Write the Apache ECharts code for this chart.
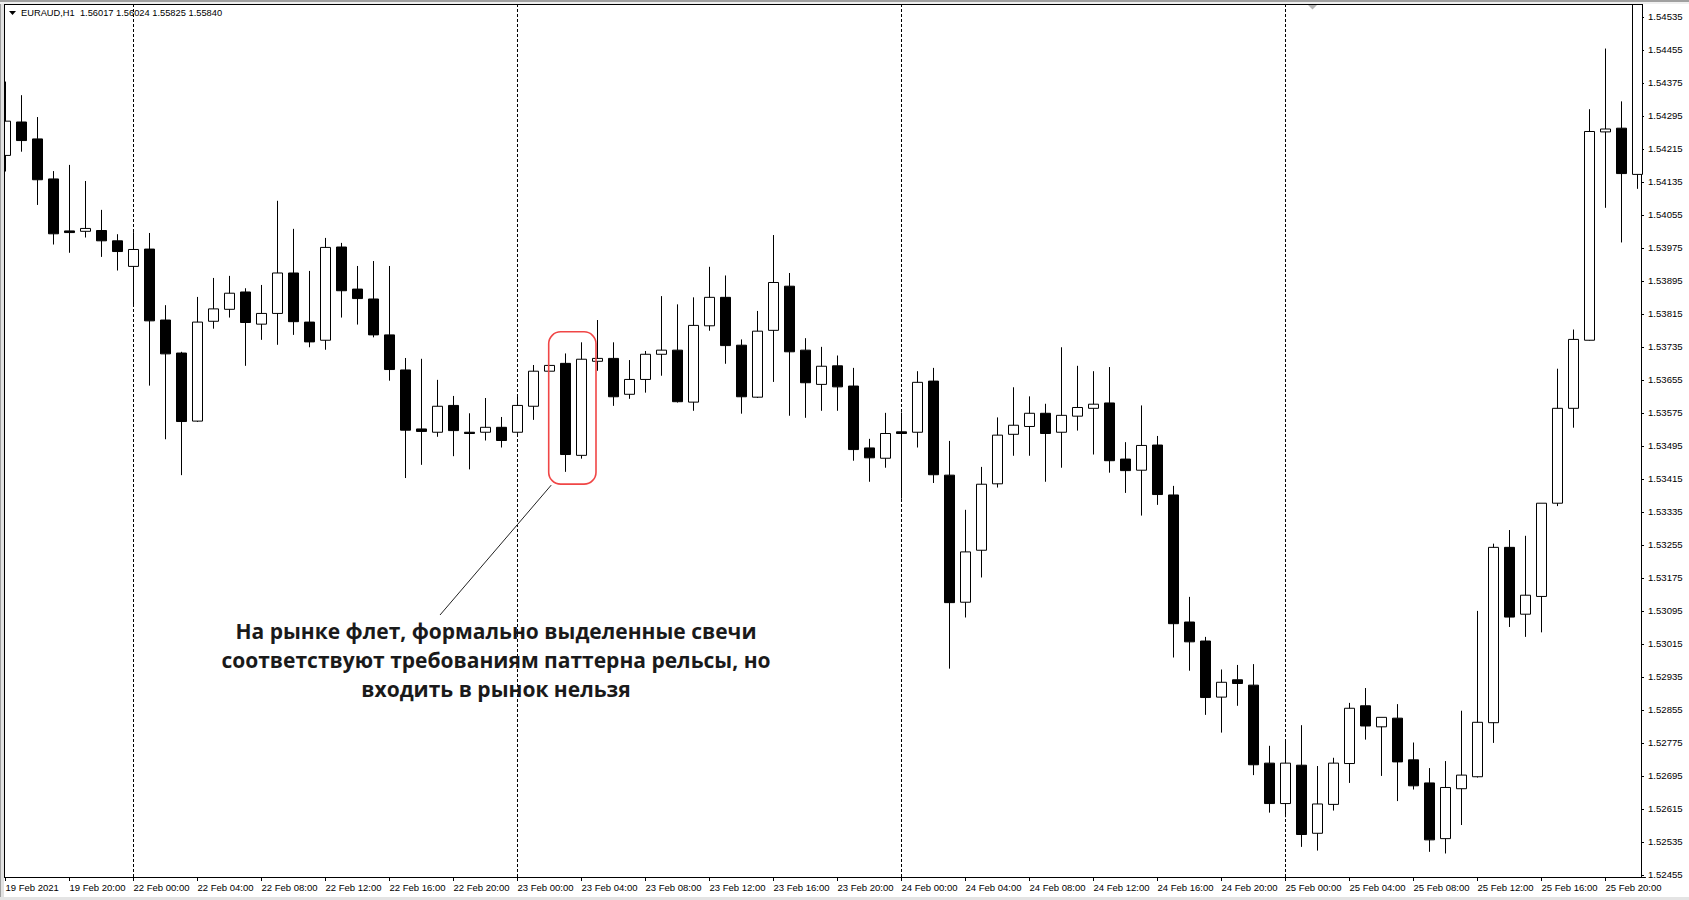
<!DOCTYPE html>
<html><head><meta charset="utf-8">
<script src="https://cdn.jsdelivr.net/npm/echarts@6/dist/echarts.min.js"></script>
<style>html,body{margin:0;padding:0;background:#fff;overflow:hidden}#c{width:1689px;height:900px}</style>
</head><body><div id="c"></div>
<script>
const categories = [
'19 Feb 16:00','19 Feb 17:00','19 Feb 18:00','19 Feb 19:00','19 Feb 20:00','19 Feb 21:00','19 Feb 22:00','19 Feb 23:00',
'22 Feb 00:00','22 Feb 01:00','22 Feb 02:00','22 Feb 03:00','22 Feb 04:00','22 Feb 05:00','22 Feb 06:00','22 Feb 07:00',
'22 Feb 08:00','22 Feb 09:00','22 Feb 10:00','22 Feb 11:00','22 Feb 12:00','22 Feb 13:00','22 Feb 14:00','22 Feb 15:00',
'22 Feb 16:00','22 Feb 17:00','22 Feb 18:00','22 Feb 19:00','22 Feb 20:00','22 Feb 21:00','22 Feb 22:00','22 Feb 23:00',
'23 Feb 00:00','23 Feb 01:00','23 Feb 02:00','23 Feb 03:00','23 Feb 04:00','23 Feb 05:00','23 Feb 06:00','23 Feb 07:00',
'23 Feb 08:00','23 Feb 09:00','23 Feb 10:00','23 Feb 11:00','23 Feb 12:00','23 Feb 13:00','23 Feb 14:00','23 Feb 15:00',
'23 Feb 16:00','23 Feb 17:00','23 Feb 18:00','23 Feb 19:00','23 Feb 20:00','23 Feb 21:00','23 Feb 22:00','23 Feb 23:00',
'24 Feb 00:00','24 Feb 01:00','24 Feb 02:00','24 Feb 03:00','24 Feb 04:00','24 Feb 05:00','24 Feb 06:00','24 Feb 07:00',
'24 Feb 08:00','24 Feb 09:00','24 Feb 10:00','24 Feb 11:00','24 Feb 12:00','24 Feb 13:00','24 Feb 14:00','24 Feb 15:00',
'24 Feb 16:00','24 Feb 17:00','24 Feb 18:00','24 Feb 19:00','24 Feb 20:00','24 Feb 21:00','24 Feb 22:00','24 Feb 23:00',
'25 Feb 00:00','25 Feb 01:00','25 Feb 02:00','25 Feb 03:00','25 Feb 04:00','25 Feb 05:00','25 Feb 06:00','25 Feb 07:00',
'25 Feb 08:00','25 Feb 09:00','25 Feb 10:00','25 Feb 11:00','25 Feb 12:00','25 Feb 13:00','25 Feb 14:00','25 Feb 15:00',
'25 Feb 16:00','25 Feb 17:00','25 Feb 18:00','25 Feb 19:00','25 Feb 20:00','25 Feb 21:00','25 Feb 22:00'
];
const openP = [
1.54199,1.54280,1.54239,1.54142,1.54016,1.54015,1.54017,1.53992,
1.53930,1.53972,1.53800,1.53720,1.53555,1.53797,1.53826,1.53868,
1.53790,1.53816,1.53914,1.53795,1.53751,1.53977,1.53875,1.53851,
1.53764,1.53679,1.53536,1.53528,1.53593,1.53528,1.53528,1.53540,
1.53528,1.53591,1.53676,1.53695,1.53472,1.53700,1.53707,1.53620,
1.53656,1.53717,1.53727,1.53601,1.53786,1.53855,1.53739,1.53613,
1.53775,1.53882,1.53727,1.53644,1.53689,1.53640,1.53490,1.53465,
1.53529,1.53528,1.53652,1.53424,1.53116,1.53242,1.53403,1.53523,
1.53542,1.53574,1.53528,1.53567,1.53586,1.53599,1.53463,1.53436,
1.53497,1.53376,1.53068,1.53022,1.52886,1.52928,1.52915,1.52726,
1.52628,1.52721,1.52556,1.52626,1.52725,1.52865,1.52814,1.52835,
1.52734,1.52678,1.52543,1.52664,1.52693,1.52824,1.53249,1.53087,
1.53130,1.53356,1.53586,1.53751,1.54256,1.54265,1.54153
];
const highP = [
1.54378,1.54345,1.54292,1.54161,1.54176,1.54137,1.54067,1.54008,
1.54013,1.54011,1.53836,1.53723,1.53856,1.53902,1.53907,1.53877,
1.53885,1.54089,1.54021,1.53919,1.53999,1.53987,1.53931,1.53943,
1.53931,1.53708,1.53706,1.53655,1.53616,1.53574,1.53611,1.53565,
1.53618,1.53691,1.53690,1.53719,1.53746,1.53800,1.53746,1.53703,
1.53725,1.53858,1.53838,1.53855,1.53929,1.53908,1.53753,1.53822,
1.54006,1.53914,1.53756,1.53735,1.53714,1.53684,1.53512,1.53575,
1.53576,1.53676,1.53684,1.53507,1.53340,1.53444,1.53564,1.53637,
1.53615,1.53597,1.53734,1.53689,1.53676,1.53686,1.53504,1.53593,
1.53519,1.53398,1.53129,1.53032,1.52953,1.52964,1.52966,1.52768,
1.52783,1.52818,1.52719,1.52739,1.52872,1.52908,1.52837,1.52869,
1.52776,1.52714,1.52731,1.52853,1.53095,1.53258,1.53291,1.53277,
1.53356,1.53682,1.53777,1.54311,1.54458,1.54330,1.54610
];
const lowP = [
1.54160,1.54208,1.54079,1.53983,1.53963,1.54000,1.53953,1.53920,
1.53832,1.53641,1.53511,1.53424,1.53553,1.53779,1.53806,1.53689,
1.53752,1.53740,1.53764,1.53734,1.53728,1.53806,1.53789,1.53758,
1.53653,1.53417,1.53449,1.53517,1.53470,1.53438,1.53508,1.53491,
1.53524,1.53558,1.53676,1.53432,1.53464,1.53677,1.53592,1.53609,
1.53624,1.53665,1.53600,1.53580,1.53774,1.53694,1.53573,1.53611,
1.53650,1.53568,1.53563,1.53580,1.53580,1.53459,1.53408,1.53442,
1.53367,1.53491,1.53405,1.52955,1.53079,1.53176,1.53394,1.53471,
1.53471,1.53408,1.53442,1.53532,1.53474,1.53430,1.53381,1.53326,
1.53352,1.52982,1.52950,1.52843,1.52800,1.52865,1.52697,1.52606,
1.52595,1.52523,1.52514,1.52611,1.52678,1.52783,1.52695,1.52634,
1.52662,1.52511,1.52507,1.52576,1.52691,1.52775,1.53056,1.53032,
1.53043,1.53349,1.53539,1.53750,1.54072,1.53988,1.54118
];
const closeP = [
1.54282,1.54235,1.54140,1.54009,1.54012,1.54022,1.53992,1.53966,
1.53971,1.53798,1.53718,1.53554,1.53795,1.53827,1.53865,1.53794,
1.53816,1.53914,1.53796,1.53747,1.53976,1.53871,1.53852,1.53764,
1.53680,1.53533,1.53530,1.53591,1.53532,1.53525,1.53540,1.53508,
1.53593,1.53676,1.53690,1.53474,1.53705,1.53707,1.53614,1.53656,
1.53717,1.53727,1.53602,1.53787,1.53855,1.53738,1.53614,1.53773,
1.53891,1.53723,1.53648,1.53688,1.53638,1.53486,1.53466,1.53525,
1.53525,1.53649,1.53425,1.53115,1.53238,1.53402,1.53521,1.53545,
1.53574,1.53525,1.53569,1.53588,1.53596,1.53459,1.53435,1.53496,
1.53377,1.53064,1.53020,1.52885,1.52922,1.52919,1.52722,1.52628,
1.52726,1.52553,1.52627,1.52726,1.52859,1.52816,1.52837,1.52729,
1.52671,1.52540,1.52667,1.52697,1.52825,1.53249,1.53080,1.53133,
1.53356,1.53586,1.53753,1.54257,1.54263,1.54155,1.54590
];
const xTickLabels = [
'19 Feb 2021','19 Feb 20:00','22 Feb 00:00','22 Feb 04:00','22 Feb 08:00','22 Feb 12:00','22 Feb 16:00','22 Feb 20:00',
'23 Feb 00:00','23 Feb 04:00','23 Feb 08:00','23 Feb 12:00','23 Feb 16:00','23 Feb 20:00',
'24 Feb 00:00','24 Feb 04:00','24 Feb 08:00','24 Feb 12:00','24 Feb 16:00','24 Feb 20:00',
'25 Feb 00:00','25 Feb 04:00','25 Feb 08:00','25 Feb 12:00','25 Feb 16:00','25 Feb 20:00'
];
const yTickValues = [
1.52455,1.52535,1.52615,1.52695,1.52775,1.52855,1.52935,1.53015,1.53095,1.53175,1.53255,1.53335,1.53415,1.53495,
1.53575,1.53655,1.53735,1.53815,1.53895,1.53975,1.54055,1.54135,1.54215,1.54295,1.54375,1.54455,1.54535
];
const daySeparators = ['22 Feb 00:00','23 Feb 00:00','24 Feb 00:00','25 Feb 00:00'];
const highlightedBars = ['23 Feb 03:00','23 Feb 04:00'];
const titleText = 'EURAUD,H1  1.56017 1.56024 1.55825 1.55840';
const noteLines = [
'На рынке флет, формально выделенные свечи',
'соответствуют требованиям паттерна рельсы, но',
'входить в рынок нельзя'
];

const chart = echarts.init(document.getElementById('c'), null, {renderer: 'svg'});
const candles = categories.map((c, i) => [openP[i], closeP[i], lowP[i], highP[i]]);
const LBL_FONT = 'Liberation Sans';

chart.setOption({
  animation: false,
  backgroundColor: '#ffffff',
  grid: {left: -2.5, top: 4, width: 1648, height: 873, containLabel: false, outerBoundsMode: 'none'},
  xAxis: {
    type: 'category', data: categories, boundaryGap: true,
    axisLine: {show: true, lineStyle: {color: '#000', width: 1}},
    axisTick: {show: true, interval: 3, alignWithLabel: true, length: 4, lineStyle: {color: '#000'}},
    axisLabel: {interval: 3, align: 'left', margin: 5, color: '#000', fontFamily: LBL_FONT, fontSize: 9.5,
      formatter: (v, i) => xTickLabels[Math.round(i / 4)]},
    splitLine: {show: false}
  },
  yAxis: {
    type: 'value', position: 'right', offset: -4.5, min: 1.5245, max: 1.54566,
    axisLine: {show: true, lineStyle: {color: '#000', width: 1}},
    axisTick: {show: true, customValues: yTickValues, length: 3, lineStyle: {color: '#000'}},
    axisLabel: {customValues: yTickValues, formatter: v => v.toFixed(5), margin: 7, color: '#000',
      fontFamily: LBL_FONT, fontSize: 9.6},
    splitLine: {show: false}
  },
  series: [
    {
      type: 'line', data: [], z: 1, silent: true,
      markLine: {
        silent: true, z: 1, symbol: ['none', 'none'], label: {show: false},
        lineStyle: {color: '#000', type: [3, 2], width: 1},
        emphasis: {disabled: true},
        data: daySeparators.map(d => ({xAxis: d}))
      }
    },
    {
      type: 'candlestick', data: candles, barWidth: 10, clip: true, z: 3,
      itemStyle: {color: '#ffffff', color0: '#000000', borderColor: '#000000', borderColor0: '#000000', borderWidth: 1}
    }
  ]
});

// annotation, placed from the data coordinates of the highlighted candles
const i0 = categories.indexOf(highlightedBars[0]);
const i1 = categories.indexOf(highlightedBars[1]);
const hi = Math.max(highP[i0], highP[i1]);
const lo = Math.min(lowP[i0], lowP[i1]);
const pTop = chart.convertToPixel({seriesIndex: 1}, [i1, hi]);
const pBot = chart.convertToPixel({seriesIndex: 1}, [i0, lo]);
const rx = pBot[0] - 16.8, rx2 = pTop[0] + 14.5;
const ry = pTop[1] - 10.5, ry2 = pBot[1] + 12.3;

chart.setOption({
  graphic: [
    {type: 'rect', z: 100, shape: {x: 0, y: 0, width: 4, height: 900}, style: {fill: '#e2e2e2'}},
    {type: 'rect', z: 100, shape: {x: 0, y: 0, width: 1, height: 900}, style: {fill: '#a0a0a0'}},
    {type: 'rect', z: 100, shape: {x: 0, y: 0, width: 1689, height: 4}, style: {fill: '#f0f0f0'}},
    {type: 'rect', z: 100, shape: {x: 0, y: 0, width: 1689, height: 2}, style: {fill: '#a0a0a0'}},
    {type: 'rect', z: 100, shape: {x: 0, y: 897, width: 1689, height: 3}, style: {fill: '#e4e4e4'}},
    {type: 'line', z: 101, shape: {x1: 4.5, y1: 4, x2: 4.5, y2: 877.5}, style: {stroke: '#000', lineWidth: 1}},
    {type: 'line', z: 101, shape: {x1: 4, y1: 4.5, x2: 1642, y2: 4.5}, style: {stroke: '#000', lineWidth: 1}},
    {type: 'polygon', z: 101, shape: {points: [[1308, 5], [1317, 5], [1312.5, 9.5]]}, style: {fill: '#b4b4b4'}},
    {type: 'polygon', z: 101, shape: {points: [[9, 11], [16, 11], [12.5, 15]]}, style: {fill: '#000'}},
    {type: 'text', z: 101, x: 21, y: 13, style: {text: titleText, fill: '#000', font: '9.3px "Liberation Sans"', verticalAlign: 'middle', align: 'left'}},
    {type: 'rect', z: 101, shape: {x: rx, y: ry, width: rx2 - rx, height: ry2 - ry, r: 12},
      style: {fill: 'none', stroke: '#f04646', lineWidth: 1.6}},
    {type: 'line', z: 101, shape: {x1: rx + 2.5, y1: ry2 + 1, x2: 440, y2: 615}, style: {stroke: '#222', lineWidth: 1}},
    {type: 'text', z: 101, x: 496, y: 660, style: {text: noteLines.join('\n'), fill: '#1a1a1a',
      font: 'bold 21px "Open Sans"', align: 'center', verticalAlign: 'middle', lineHeight: 29}}
  ]
});
</script></body></html>
